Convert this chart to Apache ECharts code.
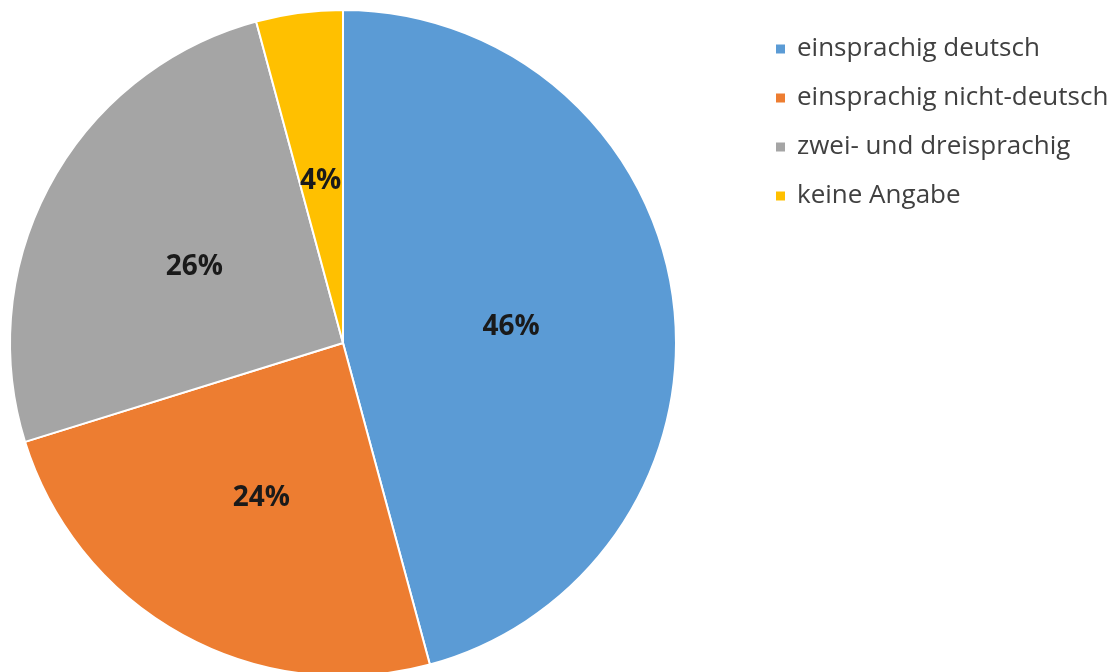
<!DOCTYPE html>
<html><head><meta charset="utf-8">
<script src="https://cdn.jsdelivr.net/npm/echarts@6/dist/echarts.min.js"></script>
<style>html,body{margin:0;padding:0;background:#fff}#c{width:1116px;height:672px}</style>
</head><body><div id="c"></div>
<script>
const categories = ["einsprachig deutsch", "einsprachig nicht-deutsch", "zwei- und dreisprachig", "keine Angabe"];
const values = [45.8, 24.4, 25.6, 4.2];
const colors = ["#5B9BD5", "#ED7D31", "#A5A5A5", "#FFC000"];

const chart = echarts.init(document.getElementById('c'));
chart.setOption({
  animation: false,
  color: colors,
  legend: {
    orient: 'vertical',
    left: 769,
    top: 31,
    itemWidth: 11,
    itemHeight: 11,
    itemGap: 23,
    icon: 'rect',
    textStyle: { fontFamily: 'Open Sans', fontSize: 26, color: '#404040', lineHeight: 26, padding: [0, 0, 0, 6] },
    data: categories
  },
  series: [{
    type: 'pie',
    center: [343, 343],
    radius: [0, 333],
    startAngle: 90,
    clockwise: true,
    itemStyle: { borderColor: '#fff', borderWidth: 2 },
    label: {
      position: 'inside',
      formatter: p => '\n{v|' + Math.round(p.value) + '%}',
      fontFamily: 'Open Sans',
      fontWeight: 'bold',
      fontSize: 28,
      lineHeight: 12,
      color: '#1a1a1a',
      rich: {
        v: { fontFamily: 'Open Sans', fontWeight: 'bold', fontSize: 28, lineHeight: 34, color: '#1a1a1a' }
      }
    },
    labelLine: { show: false },
    emphasis: { disabled: true },
    data: categories.map((n, i) => ({ name: n, value: values[i] }))
  }]
});
</script></body></html>
